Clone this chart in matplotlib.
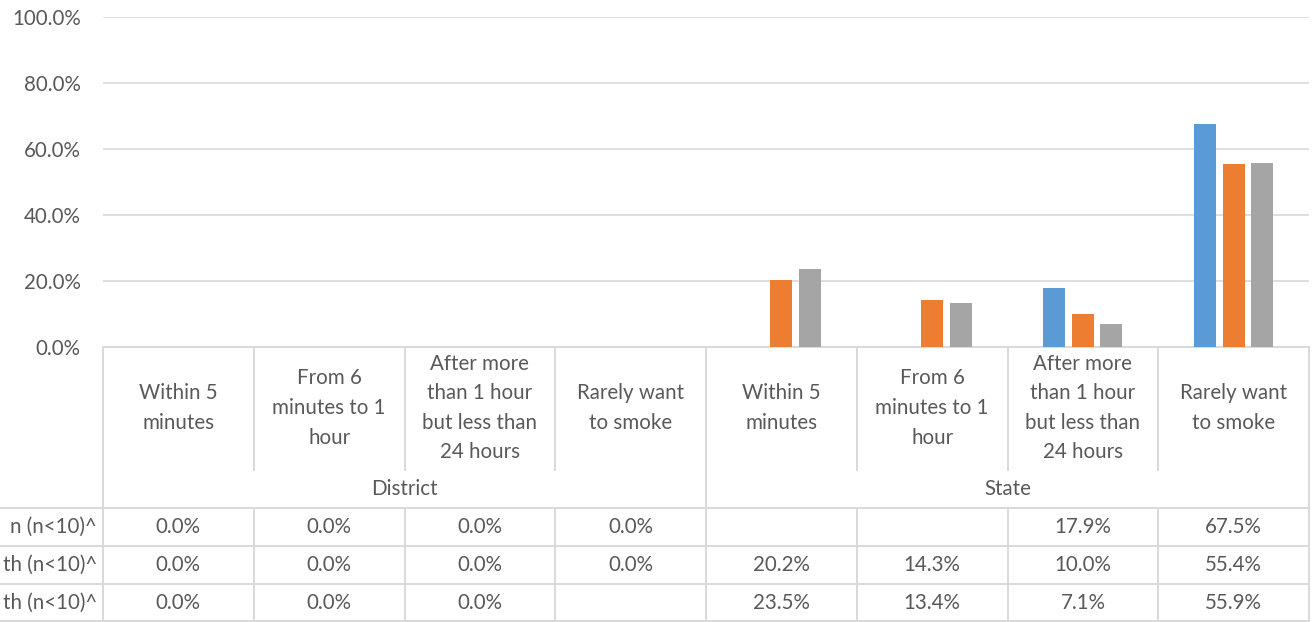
import numpy as np
import matplotlib.pyplot as plt
from matplotlib.transforms import blended_transform_factory

plt.rcParams['font.family'] = ['Lato', 'DejaVu Sans']

# categories
categories = ['Within 5\nminutes', 'From 6\nminutes to 1\nhour',
              'After more\nthan 1 hour\nbut less than\n24 hours', 'Rarely want\nto smoke'] * 2
groups = ['District', 'State']
row_labels = ['n (n<10)^', 'th (n<10)^', 'th (n<10)^']

# series values (percent); nan = no data
series_1 = [0.0, 0.0, 0.0, 0.0, np.nan, np.nan, 17.9, 67.5]
series_2 = [0.0, 0.0, 0.0, 0.0, 20.2, 14.3, 10.0, 55.4]
series_3 = [0.0, 0.0, 0.0, np.nan, 23.5, 13.4, 7.1, 55.9]
colors = ['#5B9BD5', '#ED7D31', '#A5A5A5']

W, H = 1312, 622
fig = plt.figure(figsize=(W / 100, H / 100), dpi=100)
x0, x1, ytop, ybot = 103, 1309, 17, 347
ax = fig.add_axes([x0 / W, 1 - ybot / H, (x1 - x0) / W, (ybot - ytop) / H])

grid_c = '#D9D9D9'
text_c = '#595959'
fs = 14.8

n = len(categories)
x = np.arange(n) + 0.5
width = 0.146
step = 0.189
for i, (vals, c) in enumerate(zip([series_1, series_2, series_3], colors)):
    v = np.array(vals) / 100
    ax.bar(x + (i - 1) * step, np.nan_to_num(v), width, color=c, zorder=3)

ax.set_xlim(0, n)
ax.set_ylim(0, 1)
ax.set_yticks(np.arange(0, 1.01, 0.2))
ax.set_yticklabels([f'{t * 100:.1f}%' for t in np.arange(0, 1.01, 0.2)],
                   color=text_c, fontsize=fs)
ax.tick_params(axis='y', length=0, pad=16)
ax.set_xticks([])
ax.grid(axis='y', color=grid_c, lw=1.2, zorder=0)
for s in ['top', 'right', 'left']:
    ax.spines[s].set_visible(False)
ax.spines['bottom'].set_color(grid_c)
ax.spines['bottom'].set_linewidth(1.4)

# table below the plot: x in data units, y in pixels from top
tr = blended_transform_factory(ax.transData, fig.transFigure)
def fy(py):
    return 1 - py / H

def hline(py, xa, xb):
    ax.plot([xa, xb], [fy(py), fy(py)], color=grid_c, lw=1.4, transform=tr, clip_on=False)

def vline(xd, ya, yb):
    ax.plot([xd, xd], [fy(ya), fy(yb)], color=grid_c, lw=1.4, transform=tr, clip_on=False)

# category separators
for k in range(n + 1):
    if k in (0, 4, n):
        vline(k, ybot, H)
    else:
        vline(k, ybot, 470)
        vline(k, 508, H)

xleft = -x0 / ((x1 - x0) / n)
for py in [508, 546, 584, H - 1]:
    hline(py, xleft, n)

for k, lab in enumerate(categories):
    ax.text(x[k], fy(408), lab, transform=tr, ha='center', va='center',
            fontsize=fs, color=text_c, linespacing=1.6)

for g, lab in enumerate(groups):
    ax.text(g * 4 + 2, fy(489), lab, transform=tr, ha='center', va='center',
            fontsize=fs, color=text_c)

for r, (lab, vals) in enumerate(zip(row_labels, [series_1, series_2, series_3])):
    py = 527 + r * 38
    ax.text(-0.04, fy(py), lab, transform=tr, ha='right', va='center',
            fontsize=fs, color=text_c)
    for k, v in enumerate(vals):
        if not np.isnan(v):
            ax.text(x[k], fy(py), f'{v:.1f}%', transform=tr, ha='center', va='center',
                    fontsize=fs, color=text_c)

fig.savefig('out.png', dpi=100)
